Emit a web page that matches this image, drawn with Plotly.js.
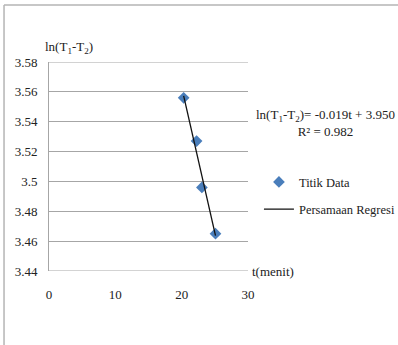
<!DOCTYPE html>
<html><head><meta charset="utf-8">
<script src="https://cdn.plot.ly/plotly-3.0.1.min.js"></script>
<style>html,body{margin:0;padding:0;background:#fff}#chart{width:398px;height:345px}</style>
</head><body><div id="chart"></div>
<script>
var tData = [20.3, 22.25, 23.05, 25.1];
var lnData = [3.556, 3.527, 3.496, 3.465];
var yTicks = [3.44, 3.46, 3.48, 3.5, 3.52, 3.54, 3.56, 3.58];
var yTickText = ['3.44', '3.46', '3.48', '3.5', '3.52', '3.54', '3.56', '3.58'];
var xTicks = [0, 10, 20, 30];
var seriesNames = ['Titik Data', 'Persamaan Regresi'];
var eqText = 'ln(T<sub>1</sub>-T<sub>2</sub>)= -0.019t + 3.950<br>R² = 0.982';

// least-squares fit from the data
var n = tData.length, mt = 0, my = 0;
for (var i = 0; i < n; i++) { mt += tData[i]; my += lnData[i]; }
mt /= n; my /= n;
var sxy = 0, sxx = 0;
for (var i = 0; i < n; i++) { sxy += (tData[i]-mt)*(lnData[i]-my); sxx += (tData[i]-mt)*(tData[i]-mt); }
var slope = sxy / sxx, icpt = my - slope * mt;
var fitX = [Math.min.apply(null, tData), Math.max.apply(null, tData)];
var fitY = fitX.map(function(t){ return icpt + slope * t; });

var fam = 'Liberation Serif, Times New Roman, serif';
var font = {family: fam, size: 13, color: '#222'};
var legFont = {family: fam, size: 12.5, color: '#222'};

var traces = [
  {x: tData, y: lnData, mode: 'markers', type: 'scatter', name: seriesNames[0], legendgroup: 'a',
   marker: {symbol: 'diamond', size: 9, color: '#4a7ebb'}},
  {x: fitX, y: fitY, mode: 'lines', type: 'scatter', name: seriesNames[1], legendgroup: 'b',
   line: {color: '#111', width: 1.3}}
];

var layout = {
  width: 398, height: 345,
  margin: {l: 49, r: 150, t: 62, b: 74, autoexpand: false},
  paper_bgcolor: '#fff', plot_bgcolor: '#fff',
  font: font,
  showlegend: true,
  legend: {x: 1.055, y: 0.36, xanchor: 'left', yanchor: 'middle', font: legFont,
           bgcolor: 'rgba(0,0,0,0)', traceorder: 'grouped', tracegroupgap: 8},
  xaxis: {range: [0, 30], tickvals: xTicks, ticktext: xTicks.map(String),
          showgrid: false, zeroline: false, showline: false, ticks: '',
          ticklabelstandoff: 14, tickfont: font, fixedrange: true},
  yaxis: {range: [3.44, 3.58], tickvals: yTicks, ticktext: yTickText,
          showgrid: true, gridcolor: '#a6a6a6', gridwidth: 1, zeroline: false,
          showline: true, linecolor: '#a6a6a6', linewidth: 1, ticks: '',
          ticklabelstandoff: 8, tickfont: font, fixedrange: true},
  shapes: [
    {type: 'line', xref: 'paper', yref: 'y', x0: 0, x1: 1, y0: 3.58, y1: 3.58, line: {color: '#a6a6a6', width: 1}},
    {type: 'line', xref: 'paper', yref: 'y', x0: 0, x1: 1, y0: 3.44, y1: 3.44, line: {color: '#a6a6a6', width: 1}},
    {type: 'line', xref: 'paper', yref: 'paper', x0: -0.226, x1: 1.76, y0: 1.273, y1: 1.273, line: {color: '#b5b5b5', width: 1.5}},
    {type: 'line', xref: 'paper', yref: 'paper', x0: -0.226, x1: -0.226, y0: 1.273, y1: -0.36, line: {color: '#b5b5b5', width: 1.5}}
  ],
  annotations: [
    {xref: 'paper', yref: 'paper', x: -0.03, y: 1.02, xanchor: 'left', yanchor: 'bottom',
     text: 'ln(T<sub>1</sub>-T<sub>2</sub>)', showarrow: false, font: font},
    {xref: 'paper', yref: 'y', x: 1.01, y: 3.44, xanchor: 'left', yanchor: 'middle',
     text: 't(menit)', showarrow: false, font: font},
    {xref: 'paper', yref: 'paper', x: 1.39, y: 0.71, xanchor: 'center', yanchor: 'middle',
     text: eqText, showarrow: false, font: font, align: 'center'}
  ]
};
Plotly.newPlot('chart', traces, layout, {displayModeBar: false, staticPlot: true});
</script></body></html>
